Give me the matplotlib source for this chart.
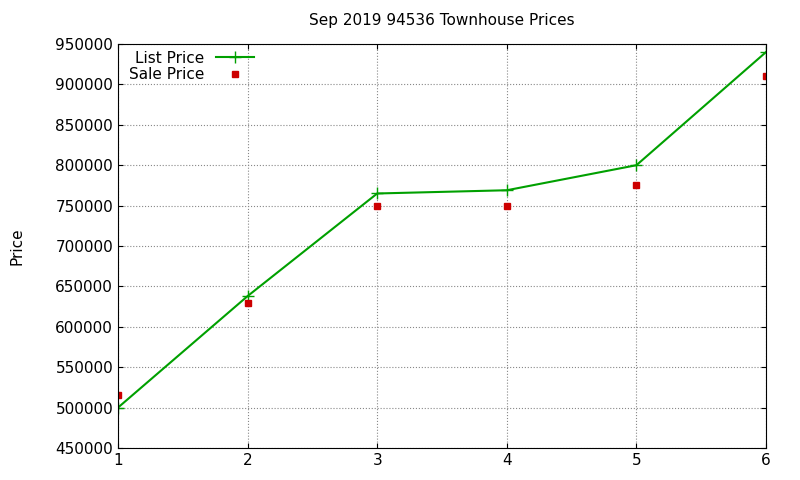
import matplotlib
matplotlib.use("Agg")
import matplotlib.pyplot as plt

x = [1, 2, 3, 4, 5, 6]
list_price = [500000, 638000, 765000, 769000, 800000, 940000]
sale_price = [515000, 630000, 749000, 749000, 775000, 910000]

fig = plt.figure(figsize=(8, 4.8), dpi=100)
ax = fig.add_axes([0.1475, 0.0667, 0.81, 0.8416])
ax.plot(x, list_price, color="#00a000", marker="+", markersize=8, lw=1.5, label="List Price")
ax.plot(x, sale_price, color="#cc0000", marker="s", markersize=5, ls="none", label="Sale Price")
ax.set_xlim(1, 6)
ax.set_ylim(450000, 950000)
ax.set_yticks(range(450000, 950001, 50000))
ax.set_yticklabels([str(v) for v in range(450000, 950001, 50000)])
ax.grid(True, ls=":", color="#888888", lw=0.8)
ax.tick_params(direction="in", labelsize=11, top=True, right=True)
ax.set_ylabel("Price", fontsize=11, labelpad=22)
ax.set_title("Sep 2019 94536 Townhouse Prices", fontsize=11, pad=14)
leg = ax.legend(loc="upper left", bbox_to_anchor=(0.0, 1.01), frameon=False, fontsize=11,
                markerfirst=False, handlelength=2.5, borderpad=0.2, labelspacing=0.1)
for t in leg.get_texts():
    t.set_ha("right")
fig.savefig("out.png")
